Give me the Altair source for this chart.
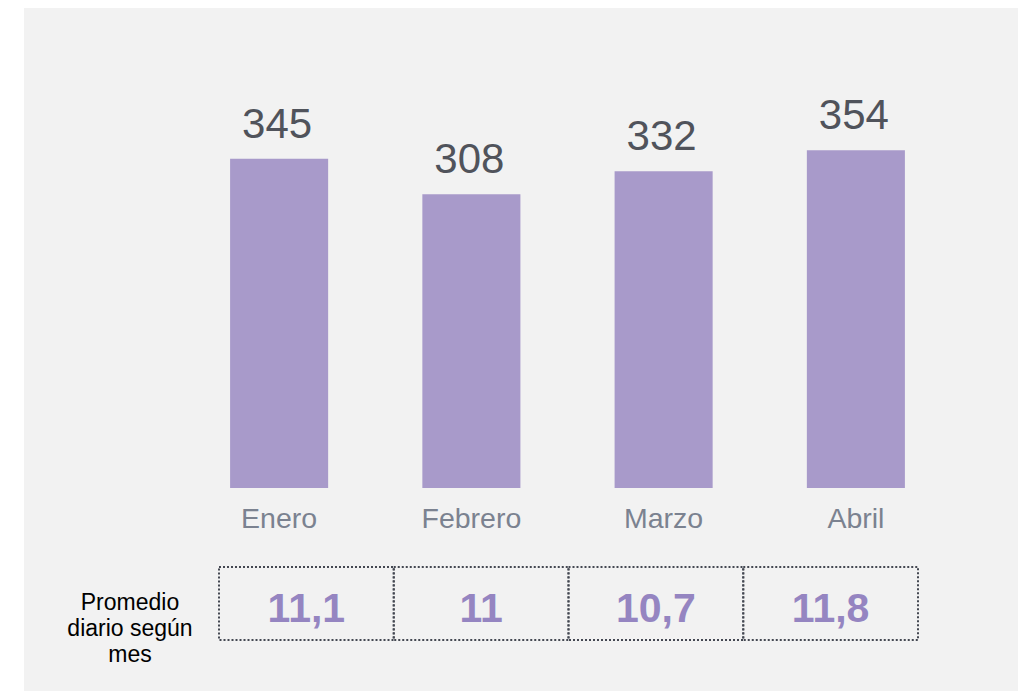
import altair as alt
import pandas as pd

months = ["Enero", "Febrero", "Marzo", "Abril"]
totals = [345, 308, 332, 354]
daily_labels = ["11,1", "11", "10,7", "11,8"]
caption_lines = ["Promedio", "diario según", "mes"]

df = pd.DataFrame({"month": months, "total": totals, "daily": daily_labels})

FONT = "Liberation Sans"
BAR_X = alt.Scale(domain=months, range=[159, 928], paddingInner=0.49, paddingOuter=0.245)
CELL_X = alt.Scale(domain=months, range=[195, 894], paddingInner=0, paddingOuter=0)
Y = alt.Scale(domain=[0, 500], range=[480, 3])

base = alt.Chart(df)

bars = base.mark_bar(color="#a89aca").encode(
    x=alt.X("month:N", sort=months, scale=BAR_X, axis=None),
    y=alt.Y("total:Q", scale=Y, axis=None),
)

values = base.mark_text(
    font=FONT, fontSize=42, color="#50535b", baseline="alphabetic", dy=-21, dx=-2
).encode(
    x=alt.X("month:N", sort=months, scale=BAR_X, axis=None),
    y=alt.Y("total:Q", scale=Y, axis=None),
    text="total:Q",
)

month_labels = base.mark_text(
    font=FONT, fontSize=28.5, color="#7b8290", baseline="alphabetic"
).encode(
    x=alt.X("month:N", sort=months, scale=BAR_X, axis=None),
    y=alt.value(520),
    text="month:N",
)

cells = base.mark_rect(
    fill="transparent", stroke="#444852", strokeWidth=2, strokeDash=[2, 2]
).encode(
    x=alt.X("month:N", sort=months, scale=CELL_X, axis=None),
    y=alt.value(559),
    y2=alt.value(632),
)

cell_text = base.mark_text(
    font=FONT, fontSize=41, fontWeight="bold", color="#9585c1", baseline="alphabetic"
).encode(
    x=alt.X("month:N", sort=months, scale=CELL_X, axis=None),
    y=alt.value(614),
    text="daily:N",
)

caption = alt.Chart(pd.DataFrame({"k": [0]})).mark_text(
    font=FONT, fontSize=23, color="#000000", text=caption_lines, lineHeight=26,
    baseline="middle", align="center"
).encode(x=alt.value(106), y=alt.value(595))

chart = alt.layer(bars, values, month_labels, cells, cell_text, caption).resolve_scale(
    x="independent"
).properties(
    width=994, height=683,
    autosize=alt.AutoSizeParams(type="none"),
    padding={"left": 16, "top": 0, "right": 0, "bottom": 0},
    background="#ffffff",
).configure_view(fill="#f2f2f2", stroke=None)

chart.save("out.html", embed_options={"renderer": "svg", "actions": False})
